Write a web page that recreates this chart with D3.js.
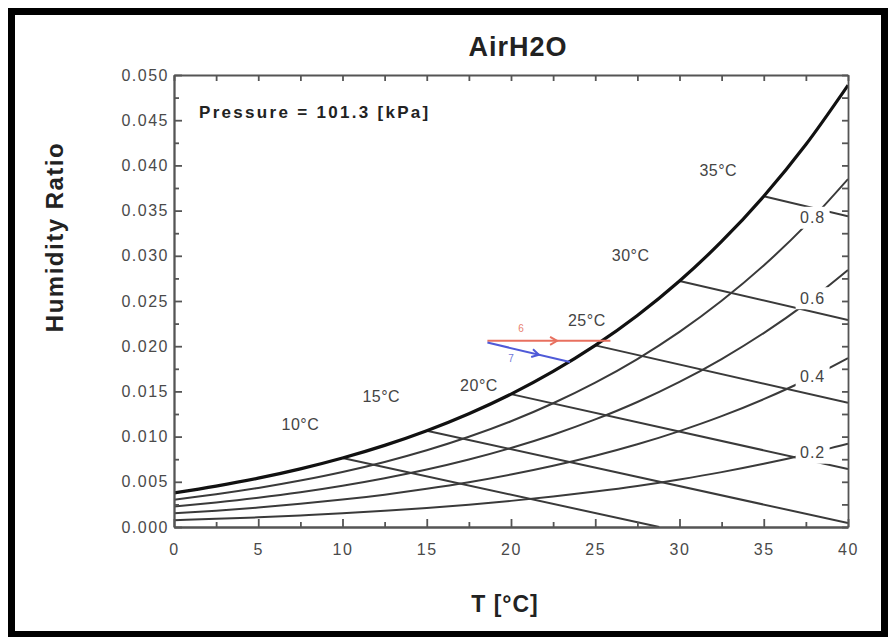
<!DOCTYPE html>
<html>
<head>
<meta charset="utf-8">
<script src="https://cdn.jsdelivr.net/npm/d3@7"></script>
<style>
  body { margin: 0; background: #fff; }
  svg { display: block; font-family: "Liberation Sans", Arial, sans-serif; }
</style>
</head>
<body>
<div id="chart"></div>
<script>
// dry bulb temperatures where the curves were read [°C]
var temps = [0, 2.5, 5, 7.5, 10, 12.5, 15, 17.5, 20, 22.5, 25, 27.5, 30, 32.5, 35, 37.5, 40];
// humidity ratio
var rh100 = [0.00378, 0.00453, 0.00540, 0.00643, 0.00763, 0.00903, 0.01065, 0.01253, 0.01470, 0.01721, 0.02009, 0.02340, 0.02721, 0.03159, 0.03659, 0.04231, 0.04887];
var rh80 = [0.00302, 0.00362, 0.00432, 0.00514, 0.00609, 0.00720, 0.00849, 0.00998, 0.01170, 0.01369, 0.01597, 0.01858, 0.02158, 0.02502, 0.02893, 0.03339, 0.03849];
var rh60 = [0.00226, 0.00271, 0.00323, 0.00384, 0.00456, 0.00539, 0.00635, 0.00746, 0.00874, 0.01021, 0.01190, 0.01383, 0.01605, 0.01858, 0.02145, 0.02471, 0.02843];
var rh40 = [0.00151, 0.00180, 0.00215, 0.00256, 0.00303, 0.00358, 0.00422, 0.00495, 0.00580, 0.00677, 0.00788, 0.00915, 0.01061, 0.01226, 0.01414, 0.01626, 0.01867];
var rh20 = [0.00075, 0.00090, 0.00107, 0.00128, 0.00151, 0.00179, 0.00210, 0.00247, 0.00289, 0.00337, 0.00392, 0.00454, 0.00526, 0.00607, 0.00699, 0.00803, 0.00920];
var rhLabels = ["0.8", "0.6", "0.4", "0.2"];
var rhLabelT = 37.9;

// wet bulb lines: start on saturation, end at the chart edge
var wbNames = ["10°C", "15°C", "20°C", "25°C", "30°C", "35°C"];
var wbStartT = [10, 15, 20, 25, 30, 35];
var wbStartW = [0.00763, 0.01065, 0.01470, 0.02009, 0.02721, 0.03659];
var wbEndT = [28.8, 40, 40, 40, 40, 40];
var wbEndW = [0.0, 0.00044, 0.00641, 0.01375, 0.02290, 0.03438];
var wbLabelT = [7.5, 12.3, 18.1, 24.5, 27.1, 32.3];
var wbLabelW = [0.0114, 0.0144, 0.0157, 0.0229, 0.0300, 0.0395];

// the two process lines
var redT = [18.6, 25.9];
var redW = [0.0206, 0.0206];
var blueT = [18.6, 23.5];
var blueW = [0.0204, 0.01825];

var xTicks = [0, 5, 10, 15, 20, 25, 30, 35, 40];
var yTicks = [0, 0.005, 0.01, 0.015, 0.02, 0.025, 0.03, 0.035, 0.04, 0.045, 0.05];

var width = 893, height = 637;
var pLeft = 174, pRight = 848, pTop = 75, pBottom = 527;

var svg = d3.select("#chart").append("svg")
	.attr("width", width)
	.attr("height", height);

// outer black frame
svg.append("rect")
	.attr("x", 11.5)
	.attr("y", 11.5)
	.attr("width", 873)
	.attr("height", 623)
	.attr("fill", "none")
	.attr("stroke", "#000")
	.attr("stroke-width", 7);

var x = d3.scaleLinear().domain([0, 40]).range([pLeft, pRight]);
var y = d3.scaleLinear().domain([0, 0.05]).range([pBottom, pTop]);

svg.append("clipPath").attr("id", "plotclip")
	.append("rect")
	.attr("x", pLeft).attr("y", pTop)
	.attr("width", pRight - pLeft).attr("height", pBottom - pTop);

var plot = svg.append("g").attr("clip-path", "url(#plotclip)");

var line = d3.line()
	.x(function(d) { return x(d[0]); })
	.y(function(d) { return y(d[1]); })
	.curve(d3.curveMonotoneX);

function pairs(ws) {
	return temps.map(function(t, i) { return [t, ws[i]]; });
}

var rhSeries = [rh80, rh60, rh40, rh20];
rhSeries.forEach(function(ws) {
	plot.append("path")
		.datum(pairs(ws))
		.attr("d", line)
		.attr("fill", "none")
		.attr("stroke", "#3a3a3a")
		.attr("stroke-width", 2);
});

wbStartT.forEach(function(t, i) {
	plot.append("line")
		.attr("x1", x(t)).attr("y1", y(wbStartW[i]))
		.attr("x2", x(wbEndT[i])).attr("y2", y(wbEndW[i]))
		.attr("stroke", "#3a3a3a")
		.attr("stroke-width", 2);
});

// saturation curve
plot.append("path")
	.datum(pairs(rh100))
	.attr("d", line)
	.attr("fill", "none")
	.attr("stroke", "#111")
	.attr("stroke-width", 3.2);

// relative humidity labels sit on the curves with a white box behind
rhSeries.forEach(function(ws, i) {
	var w = d3.scaleLinear().domain(temps).range(ws)(rhLabelT);
	var g = svg.append("g").attr("transform", "translate(" + x(rhLabelT) + "," + y(w) + ")");
	g.append("rect")
		.attr("x", -17).attr("y", -11)
		.attr("width", 34).attr("height", 22)
		.attr("fill", "#fff");
	g.append("text")
		.attr("text-anchor", "middle")
		.attr("dy", "0.35em")
		.attr("font-size", 16)
		.attr("letter-spacing", 1)
		.attr("fill", "#444")
		.text(rhLabels[i]);
});

wbNames.forEach(function(name, i) {
	svg.append("text")
		.attr("x", x(wbLabelT[i]))
		.attr("y", y(wbLabelW[i]))
		.attr("text-anchor", "middle")
		.attr("dy", "0.35em")
		.attr("font-size", 16)
		.attr("letter-spacing", 0.5)
		.attr("fill", "#444")
		.text(name);
});

// process lines
plot.append("line")
	.attr("x1", x(redT[0])).attr("y1", y(redW[0]))
	.attr("x2", x(redT[1])).attr("y2", y(redW[1]))
	.attr("stroke", "#e8705f").attr("stroke-width", 2);
plot.append("line")
	.attr("x1", x(blueT[0])).attr("y1", y(blueW[0]))
	.attr("x2", x(blueT[1])).attr("y2", y(blueW[1]))
	.attr("stroke", "#4f5ad8").attr("stroke-width", 2);

function arrow(t0, w0, t1, w1, f, color) {
	var px = x(t0 + (t1 - t0) * f), py = y(w0 + (w1 - w0) * f);
	var ang = Math.atan2(y(w1) - y(w0), x(t1) - x(t0)) * 180 / Math.PI;
	svg.append("path")
		.attr("d", "M-5,-4L2,0L-5,4")
		.attr("transform", "translate(" + px + "," + py + ") rotate(" + ang + ")")
		.attr("fill", "none")
		.attr("stroke", color)
		.attr("stroke-width", 2);
}
arrow(redT[0], redW[0], redT[1], redW[1], 0.55, "#e8705f");
arrow(blueT[0], blueW[0], blueT[1], blueW[1], 0.6, "#4f5ad8");
svg.append("text").attr("x", x(20.6)).attr("y", y(0.0216)).attr("font-size", 10)
	.attr("fill", "#e8806f").attr("text-anchor", "middle").text("6");
svg.append("text").attr("x", x(20.0)).attr("y", y(0.0183)).attr("font-size", 10)
	.attr("fill", "#6f78d8").attr("text-anchor", "middle").text("7");

// axes
var axisColor = "#555";
function styleAxis(g) {
	g.selectAll("path, line").attr("stroke", axisColor).attr("stroke-width", 1.8);
	g.selectAll("text").attr("fill", "#4a4a4a").attr("font-size", 16)
		.attr("font-family", "Liberation Sans, Arial, sans-serif")
		.attr("letter-spacing", 1.5);
}

var xAxis = svg.append("g")
	.attr("transform", "translate(0," + pBottom + ")")
	.call(d3.axisBottom(x).tickValues(xTicks).tickSizeInner(-8).tickSizeOuter(0).tickPadding(17));
styleAxis(xAxis);
var xMinor = svg.append("g")
	.attr("transform", "translate(0," + pBottom + ")")
	.call(d3.axisBottom(x).tickValues(d3.range(2.5, 40, 5)).tickSizeInner(-5).tickSizeOuter(0).tickFormat(""));
styleAxis(xMinor);

var xTop = svg.append("g")
	.attr("transform", "translate(0," + pTop + ")")
	.call(d3.axisTop(x).tickValues(d3.range(0, 40.1, 2.5)).tickSizeInner(-6).tickSizeOuter(0).tickFormat(""));
styleAxis(xTop);

var yAxis = svg.append("g")
	.attr("transform", "translate(" + pLeft + ",0)")
	.call(d3.axisLeft(y).tickValues(yTicks).tickSizeInner(-8).tickSizeOuter(0).tickPadding(5).tickFormat(d3.format(".3f")));
styleAxis(yAxis);
var yMinor = svg.append("g")
	.attr("transform", "translate(" + pLeft + ",0)")
	.call(d3.axisLeft(y).tickValues(d3.range(0.0025, 0.05, 0.005)).tickSizeInner(-5).tickSizeOuter(0).tickFormat(""));
styleAxis(yMinor);

var yRight = svg.append("g")
	.attr("transform", "translate(" + pRight + ",0)")
	.call(d3.axisRight(y).tickValues(d3.range(0, 0.0501, 0.0025)).tickSizeInner(-6).tickSizeOuter(0).tickFormat(""));
styleAxis(yRight);

// titles
svg.append("text")
	.attr("x", 518)
	.attr("y", 56)
	.attr("text-anchor", "middle")
	.attr("font-size", 27)
	.attr("font-weight", "bold")
	.attr("letter-spacing", 1)
	.attr("fill", "#222")
	.text("AirH2O");

svg.append("text")
	.attr("x", 505)
	.attr("y", 612)
	.attr("text-anchor", "middle")
	.attr("font-size", 23)
	.attr("font-weight", "bold")
	.attr("letter-spacing", 1)
	.attr("fill", "#222")
	.text("T [°C]");

svg.append("text")
	.attr("transform", "translate(63,237) rotate(-90)")
	.attr("text-anchor", "middle")
	.attr("font-size", 24)
	.attr("font-weight", "bold")
	.attr("letter-spacing", 1.5)
	.attr("fill", "#222")
	.text("Humidity Ratio");

svg.append("text")
	.attr("x", 199)
	.attr("y", 118)
	.attr("font-size", 17)
	.attr("font-weight", "bold")
	.attr("letter-spacing", 2.3)
	.attr("fill", "#222")
	.text("Pressure = 101.3 [kPa]");
</script>
</body>
</html>
